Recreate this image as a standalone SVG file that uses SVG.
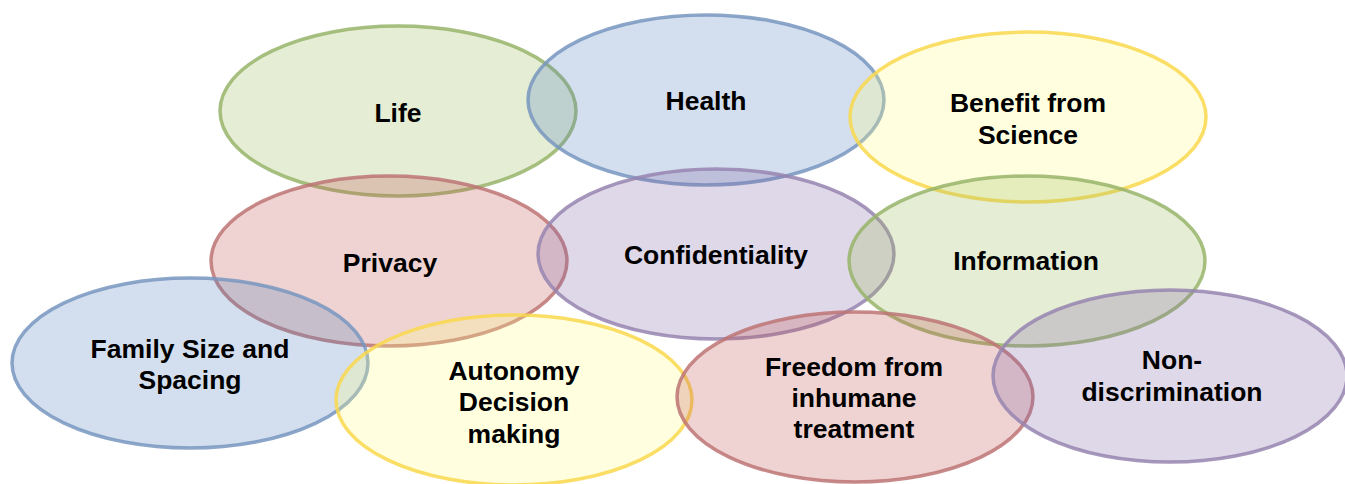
<svg xmlns="http://www.w3.org/2000/svg" width="1345" height="484" viewBox="0 0 1345 484">
<style>
  .e { stroke-width: 3.5; stroke-opacity: 0.85; }
  .g { fill: #9bbb59; fill-opacity: 0.26; stroke: #98b46a; }
  .b { fill: #4f81bd; fill-opacity: 0.25; stroke: #7896bf; }
  .y { fill: #ffff80; fill-opacity: 0.25; stroke: #f9d84e; }
  .r { fill: #c0504d; fill-opacity: 0.25; stroke: #bd7474; }
  .p { fill: #8064a2; fill-opacity: 0.25; stroke: #9685b0; }
  text { font-family: "Liberation Sans", Arial, sans-serif; font-weight: bold; font-size: 26.5px; fill: #000; text-anchor: middle; }
</style>
<rect width="1345" height="484" fill="#ffffff"/>
<g id="life"><ellipse class="e g" cx="398" cy="111" rx="178" ry="85"/><text x="398" y="122">Life</text></g>
<g id="health"><ellipse class="e b" cx="706" cy="100" rx="178" ry="85"/><text x="706" y="110">Health</text></g>
<g id="benefit"><ellipse class="e y" cx="1028" cy="117" rx="178" ry="85"/><text x="1028" y="112">Benefit from</text><text x="1028" y="144">Science</text></g>
<g id="privacy"><ellipse class="e r" cx="389" cy="261" rx="178" ry="85"/><text x="390" y="272">Privacy</text></g>
<g id="confidentiality"><ellipse class="e p" cx="716" cy="254" rx="178" ry="85"/><text x="716" y="264">Confidentiality</text></g>
<g id="information"><ellipse class="e g" cx="1027" cy="261" rx="178" ry="85"/><text x="1026" y="270">Information</text></g>
<g id="family"><ellipse class="e b" cx="190" cy="363" rx="178" ry="85"/><text x="190" y="358">Family Size and</text><text x="190" y="389">Spacing</text></g>
<g id="autonomy"><ellipse class="e y" cx="514" cy="400" rx="178" ry="85"/><text x="514" y="380">Autonomy</text><text x="514" y="411">Decision</text><text x="514" y="443">making</text></g>
<g id="freedom"><ellipse class="e r" cx="855" cy="397" rx="178" ry="85"/><text x="854" y="376">Freedom from</text><text x="854" y="407">inhumane</text><text x="854" y="438">treatment</text></g>
<g id="nondiscrimination"><ellipse class="e p" cx="1170" cy="376" rx="177" ry="86"/><text x="1172" y="369">Non-</text><text x="1172" y="401">discrimination</text></g>
<g id="connectors"></g>
</svg>
